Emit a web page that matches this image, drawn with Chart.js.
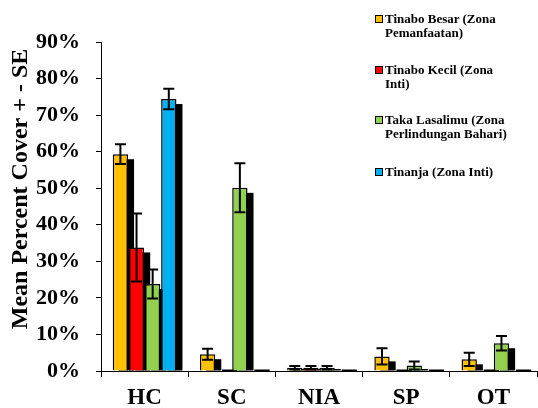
<!DOCTYPE html>
<html>
<head>
<meta charset="utf-8">
<script src="https://cdn.jsdelivr.net/npm/chart.js@4/dist/chart.umd.min.js"></script>
<style>
  html, body { margin: 0; padding: 0; background: #fff; }
  #wrap { position: relative; width: 538px; height: 408px; }
  canvas { position: absolute; left: 0; top: 0; }
  .leg { position: absolute; left: 385px; font: bold 13px "Liberation Serif", "Times New Roman", serif; line-height: 14px; color: #000; white-space: nowrap; }
  .box { position: absolute; left: -10px; top: 3px; width: 6px; height: 6px; border: 1.5px solid #000; }
</style>
</head>
<body>
<div id="wrap">
  <canvas id="c" width="538" height="408"></canvas>
  <div id="legend"></div>
</div>
<script>
// ---- data ----
const categories = ["HC", "SC", "NIA", "SP", "OT"];
const seriesNames = [
  "Tinabo Besar (Zona\nPemanfaatan)",
  "Tinabo Kecil (Zona\nInti)",
  "Taka Lasalimu (Zona\nPerlindungan Bahari)",
  "Tinanja (Zona Inti)"
];
const tinaboBesar   = [59.3, 4.6, 0.9, 4.0, 3.2];
const tinaboKecil   = [33.8, 0,   0.9, 0,   0  ];
const takaLasalimu  = [23.8, 50.1, 0.9, 1.5, 7.6];
const tinanja       = [74.4, 0,   0,   0,   0  ];
const seTinaboBesar  = [2.7, 1.5, 0.5, 2.2, 1.8];
const seTinaboKecil  = [9.3, 0,   0.5, 0,   0  ];
const seTakaLasalimu = [4.0, 6.7, 0.5, 1.1, 2.0];
const seTinanja      = [2.8, 0,   0,   0,   0  ];
const yTicks = [0, 10, 20, 30, 40, 50, 60, 70, 80, 90];
const yTitle = "Mean Percent Cover + - SE";
const colors = ["#FFC000", "#FF0000", "#92D050", "#00B0F0"];

const values = [tinaboBesar, tinaboKecil, takaLasalimu, tinanja];
const errors = [seTinaboBesar, seTinaboKecil, seTakaLasalimu, seTinanja];

const FONT = '"Liberation Serif", "Times New Roman", serif';

// legend (HTML)
const legTops = [12, 63, 113, 165];
const legend = document.getElementById('legend');
seriesNames.forEach((n, i) => {
  const d = document.createElement('div');
  d.className = 'leg';
  d.style.top = legTops[i] + 'px';
  const b = document.createElement('span');
  b.className = 'box';
  b.style.background = colors[i];
  d.appendChild(b);
  n.split('\n').forEach((line, k) => {
    if (k) d.appendChild(document.createElement('br'));
    d.appendChild(document.createTextNode(line));
  });
  legend.appendChild(d);
});

const shadowPlugin = {
  id: 'shadowBars',
  beforeDatasetsDraw(chart) {
    const ctx = chart.ctx;
    const a = chart.chartArea;
    ctx.save();
    ctx.beginPath();
    ctx.rect(a.left, a.top, a.right - a.left, a.bottom - a.top);
    ctx.clip();
    for (let i = 0; i < chart.data.datasets.length; i++) {
      const meta = chart.getDatasetMeta(i);
      meta.data.forEach(el => {
        const p = el.getProps(['x', 'y', 'base', 'width'], true);
        const x0 = p.x - p.width / 2 + 6;
        const top = Math.min(p.y + 5, p.base - 1.5);
        ctx.fillStyle = '#000';
        ctx.fillRect(x0, top, p.width, p.base - top);
      });
      meta.data.forEach(el => el.draw(ctx));
    }
    ctx.restore();
    // error bars
    const ys = chart.scales.y;
    ctx.save();
    ctx.strokeStyle = '#000';
    ctx.lineWidth = 2;
    for (let i = 0; i < chart.data.datasets.length; i++) {
      const meta = chart.getDatasetMeta(i);
      meta.data.forEach((el, j) => {
        const se = errors[i][j];
        if (!se) return;
        const v = values[i][j];
        const x = el.getProps(['x'], true).x;
        const yt = ys.getPixelForValue(v + se);
        const yb = ys.getPixelForValue(Math.max(0, v - se));
        ctx.beginPath();
        ctx.moveTo(x, yt); ctx.lineTo(x, yb);
        ctx.moveTo(x - 5.5, yt); ctx.lineTo(x + 5.5, yt);
        ctx.moveTo(x - 5.5, yb); ctx.lineTo(x + 5.5, yb);
        ctx.stroke();
      });
    }
    ctx.restore();
    return false;
  },
  afterDraw(chart) {
    const ctx = chart.ctx;
    ctx.save();
    ctx.translate(20.5, 189);
    ctx.rotate(-Math.PI / 2);
    ctx.font = 'bold 24px ' + FONT;
    ctx.fillStyle = '#000';
    ctx.textAlign = 'center';
    ctx.textBaseline = 'middle';
    ctx.fillText(yTitle, 0, 0);
    ctx.restore();
  }
};

new Chart(document.getElementById('c'), {
  type: 'bar',
  data: {
    labels: categories,
    datasets: values.map((v, i) => ({
      label: seriesNames[i].replace('\n', ' '),
      data: v,
      backgroundColor: colors[i],
      borderColor: '#000',
      borderWidth: 1.5,
      categoryPercentage: 0.74,
      barPercentage: 0.95
    }))
  },
  options: {
    responsive: false,
    devicePixelRatio: 1,
    animation: false,
    layout: { padding: { top: 42, right: 1, left: 0, bottom: 0 } },
    plugins: { legend: { display: false }, tooltip: { enabled: false } },
    scales: {
      x: {
        grid: { offset: true, drawOnChartArea: false, tickLength: 6, color: '#000', lineWidth: 1 },
        border: { color: '#000', width: 1 },
        ticks: { color: '#000', font: { family: FONT, size: 23, weight: 'bold' }, padding: 7 },
        afterFit(s) { s.height = 37; }
      },
      y: {
        min: 0, max: 90,
        afterBuildTicks(s) { s.ticks = yTicks.map(v => ({ value: v })); },
        grid: { drawOnChartArea: false, tickLength: 5, color: '#000', lineWidth: 1 },
        border: { color: '#000', width: 1 },
        ticks: { color: '#000', font: { family: FONT, size: 22, weight: 'bold' }, padding: 16,
                 callback: v => v + '%' },
        afterFit(s) { s.width = 101; }
      }
    }
  },
  plugins: [shadowPlugin]
});
</script>
</body>
</html>
